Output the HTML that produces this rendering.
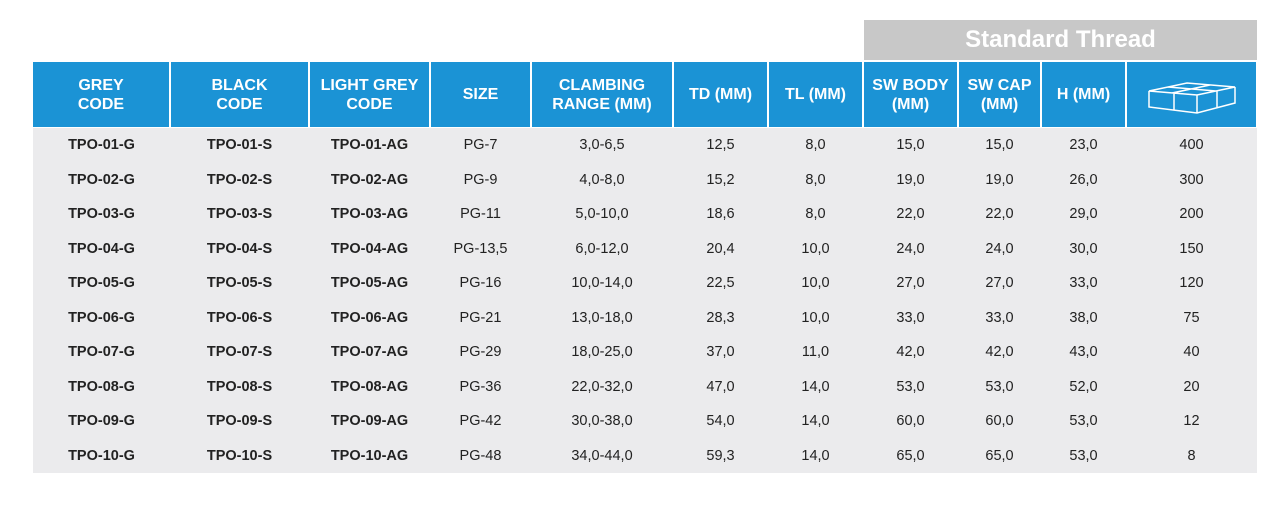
<!DOCTYPE html>
<html><head><meta charset="utf-8"><style>
body{margin:0;width:1281px;height:505px;background:#fff;position:relative;overflow:hidden;font-family:"Liberation Sans",sans-serif}
.h{position:absolute;background:#1b93d5;color:#fff;font-weight:bold;font-size:16px;line-height:19px;display:flex;align-items:center;justify-content:center;text-align:center;top:62px;height:65px}
.c{position:absolute;font-size:14.5px;color:#222;text-align:center;height:34.5px;line-height:34.5px}
.cb{font-weight:bold}
</style></head><body>
<div style="position:absolute;left:864px;top:20px;width:393px;height:40px;background:#c8c8c8;color:#fff;font-weight:bold;font-size:24px;line-height:40px;text-align:center">Standard Thread</div>
<div style="position:absolute;left:33px;top:128px;width:1224px;height:345px;background:#ebebed"></div>
<div id="t"></div>
<script>
const edges=[33,170,309,430,531,673,768,863,958,1041,1126,1257];
const headers=["GREY<br>CODE","BLACK<br>CODE","LIGHT GREY<br>CODE","SIZE","CLAMBING<br>RANGE (MM)","TD (MM)","TL (MM)","SW BODY<br>(MM)","SW CAP<br>(MM)","H (MM)",""];
const rows=[
["TPO-01-G","TPO-01-S","TPO-01-AG","PG-7","3,0-6,5","12,5","8,0","15,0","15,0","23,0","400"],
["TPO-02-G","TPO-02-S","TPO-02-AG","PG-9","4,0-8,0","15,2","8,0","19,0","19,0","26,0","300"],
["TPO-03-G","TPO-03-S","TPO-03-AG","PG-11","5,0-10,0","18,6","8,0","22,0","22,0","29,0","200"],
["TPO-04-G","TPO-04-S","TPO-04-AG","PG-13,5","6,0-12,0","20,4","10,0","24,0","24,0","30,0","150"],
["TPO-05-G","TPO-05-S","TPO-05-AG","PG-16","10,0-14,0","22,5","10,0","27,0","27,0","33,0","120"],
["TPO-06-G","TPO-06-S","TPO-06-AG","PG-21","13,0-18,0","28,3","10,0","33,0","33,0","38,0","75"],
["TPO-07-G","TPO-07-S","TPO-07-AG","PG-29","18,0-25,0","37,0","11,0","42,0","42,0","43,0","40"],
["TPO-08-G","TPO-08-S","TPO-08-AG","PG-36","22,0-32,0","47,0","14,0","53,0","53,0","52,0","20"],
["TPO-09-G","TPO-09-S","TPO-09-AG","PG-42","30,0-38,0","54,0","14,0","60,0","60,0","53,0","12"],
["TPO-10-G","TPO-10-S","TPO-10-AG","PG-48","34,0-44,0","59,3","14,0","65,0","65,0","53,0","8"]];
const t=document.getElementById('t');
for(let i=0;i<headers.length;i++){
 const d=document.createElement('div');d.className='h';
 
 
 const l=edges[i]+(i?1:0),r=edges[i+1]-1;
 d.style.left=l+'px';d.style.width=(r-l)+'px';
 if(i==10){d.innerHTML='<svg width="90" height="40" viewBox="0 0 90 40" fill="none" stroke="#fff" stroke-width="1.5"><path d="M2 16 L40 8 L88 12 L50 20 Z M2 16 L2 32 L50 38 L88 28 L88 12 M50 20 L50 38 M21 12 L69 16 M25 18 L63 10 M27 18 L27 35 M70 16 L70 33"/></svg>';}
 else d.innerHTML=headers[i];
 t.appendChild(d);
}
rows.forEach((row,ri)=>{
 row.forEach((v,ci)=>{
  const d=document.createElement('div');d.className='c'+(ci<3?' cb':'');
  
  
  d.style.left=edges[ci]+'px';d.style.width=(edges[ci+1]-edges[ci])+'px';
  d.style.top=(128+ri*34.5)+'px';d.textContent=v;t.appendChild(d);
 });
});
</script>
</body></html>
